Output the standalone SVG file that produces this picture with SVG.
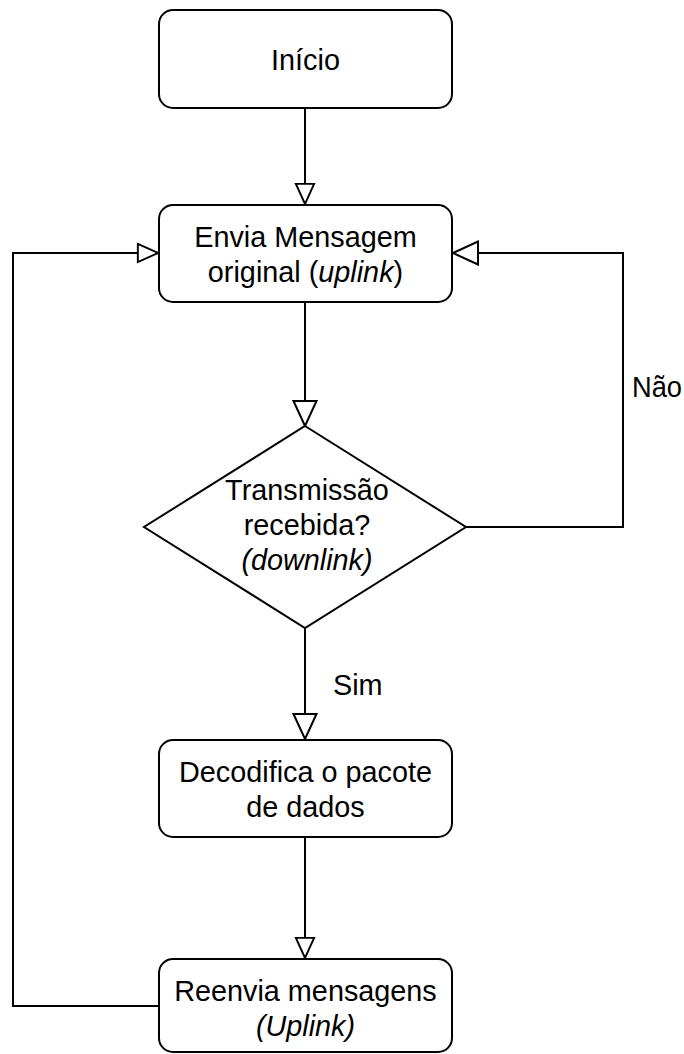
<svg xmlns="http://www.w3.org/2000/svg" width="684" height="1054" viewBox="0 0 684 1054">
  <style>
    .box { fill: #ffffff; stroke: #000000; stroke-width: 2; }
    .edge { fill: none; stroke: #000000; stroke-width: 2; }
    text { font-family: "Liberation Sans", Arial, sans-serif; font-size: 28.8px; fill: #000000; }
    .c { text-anchor: middle; }
    .i { font-style: italic; }
  </style>
  <defs>
    <marker id="arrS" markerUnits="userSpaceOnUse" markerWidth="24" markerHeight="24" viewBox="-2 -2 25 23" refX="21" refY="9.5" orient="auto">
      <path d="M0,0 L21,9.5 L0,19 Z" fill="#ffffff" stroke="#000000" stroke-width="2"/>
    </marker>
    <marker id="arrL" markerUnits="userSpaceOnUse" markerWidth="29" markerHeight="27" viewBox="-2 -2 29 27" refX="25" refY="11.5" orient="auto">
      <path d="M0,0 L25,11.5 L0,23 Z" fill="#ffffff" stroke="#000000" stroke-width="2"/>
    </marker>
  </defs>
  <rect width="684" height="1054" fill="#ffffff"/>

  <g id="connectors">
    <path class="edge" d="M305,108 L305,204" marker-end="url(#arrS)"/>
    <path class="edge" d="M305,302 L305,426" marker-end="url(#arrL)"/>
    <path class="edge" d="M466,527 L623,527 L623,253 L453,253" marker-end="url(#arrL)"/>
    <path class="edge" d="M305,628 L305,739" marker-end="url(#arrL)"/>
    <path class="edge" d="M305,837 L305,958" marker-end="url(#arrS)"/>
    <path class="edge" d="M159,1006 L13,1006 L13,253 L158,253" marker-end="url(#arrS)"/>
    <text x="632" y="397" textLength="50" lengthAdjust="spacingAndGlyphs">Não</text>
    <text x="333" y="695">Sim</text>
  </g>

  <g id="inicio">
    <rect class="box" x="159" y="10" width="293" height="98" rx="14" ry="14"/>
    <text class="c" x="305.5" y="70">Início</text>
  </g>

  <g id="envia">
    <rect class="box" x="159" y="205" width="293" height="97" rx="14" ry="14"/>
    <text class="c" x="305.5" y="247">Envia Mensagem</text>
    <text class="c" x="305.5" y="282">original (<tspan class="i">uplink</tspan>)</text>
  </g>

  <g id="decisao">
    <polygon class="box" points="305,426 466,527 305,628 144,527"/>
    <text class="c" x="307" y="500">Transmissão</text>
    <text class="c" x="307" y="535">recebida?</text>
    <text class="c i" x="307" y="570">(downlink)</text>
  </g>

  <g id="decodifica">
    <rect class="box" x="159" y="740" width="293" height="97" rx="14" ry="14"/>
    <text class="c" x="305.5" y="782">Decodifica o pacote</text>
    <text class="c" x="305.5" y="817">de dados</text>
  </g>

  <g id="reenvia">
    <rect class="box" x="159" y="959" width="293" height="93" rx="14" ry="14"/>
    <text class="c" x="305.5" y="1001">Reenvia mensagens</text>
    <text class="c i" x="305.5" y="1036">(Uplink)</text>
  </g>
</svg>
